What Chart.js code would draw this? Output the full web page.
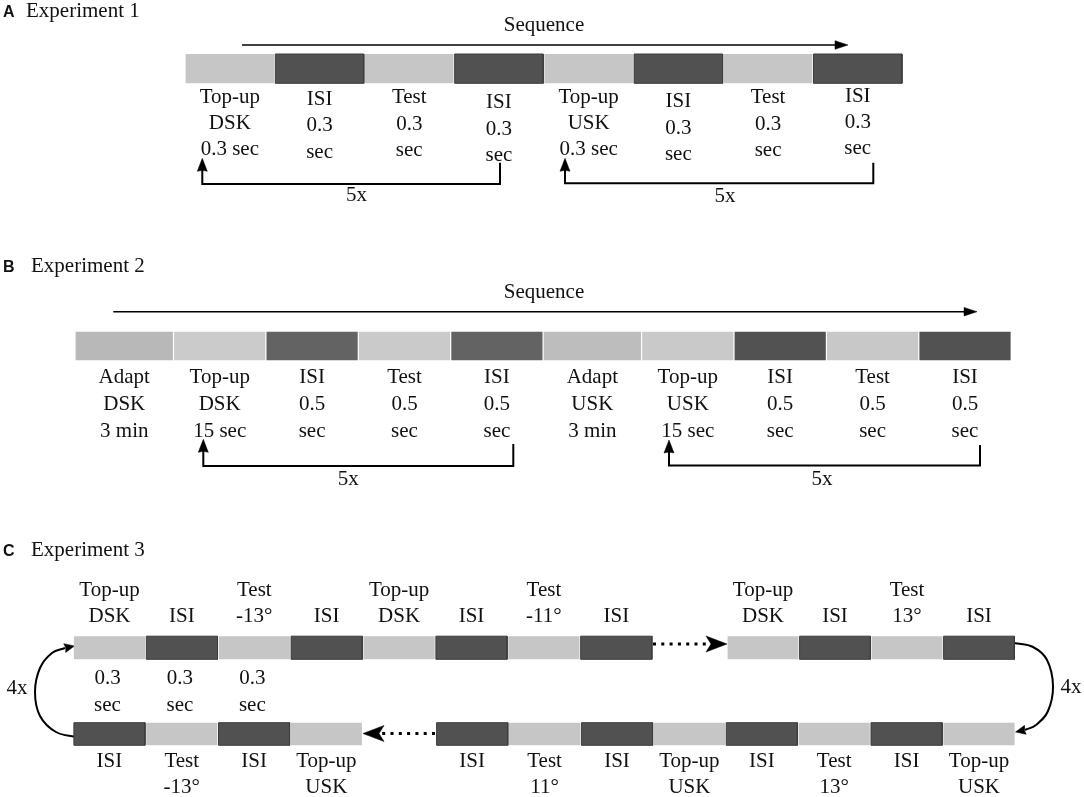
<!DOCTYPE html>
<html lang="en">
<head>
  <meta charset="UTF-8">
  <title>Experiment sequences</title>
  <script src="https://cdn.jsdelivr.net/npm/chart.js"></script>
  <style>
    body {
      margin: 0;
      padding: 0;
      background: #fff;
    }
    .wrap {
      width: 1084px;
      height: 797px;
      position: relative;
    }
  </style>
</head>
<body>
  <div class="wrap">
    <canvas id="diagram"></canvas>
  </div>

  <script>
    // ----- Experiment 1 -----
    const exp1Blocks = ['Top-up', 'ISI', 'Test', 'ISI', 'Top-up', 'ISI', 'Test', 'ISI'];
    const exp1Labels = [
      ['Top-up', 'DSK', '0.3 sec'], ['ISI', '0.3', 'sec'], ['Test', '0.3', 'sec'], ['ISI', '0.3', 'sec'],
      ['Top-up', 'USK', '0.3 sec'], ['ISI', '0.3', 'sec'], ['Test', '0.3', 'sec'], ['ISI', '0.3', 'sec']
    ];
    const exp1Repeats = ['5x', '5x'];

    // ----- Experiment 2 -----
    const exp2Blocks = ['Adapt', 'Top-up', 'ISI', 'Test', 'ISI', 'Adapt', 'Top-up', 'ISI', 'Test', 'ISI'];
    const exp2Labels = [
      ['Adapt', 'DSK', '3 min'], ['Top-up', 'DSK', '15 sec'], ['ISI', '0.5', 'sec'], ['Test', '0.5', 'sec'], ['ISI', '0.5', 'sec'],
      ['Adapt', 'USK', '3 min'], ['Top-up', 'USK', '15 sec'], ['ISI', '0.5', 'sec'], ['Test', '0.5', 'sec'], ['ISI', '0.5', 'sec']
    ];
    const exp2Repeats = ['5x', '5x'];

    // ----- Experiment 3 -----
    const exp3TopBlocks = ['Top-up', 'ISI', 'Test', 'ISI', 'Top-up', 'ISI', 'Test', 'ISI'];
    const exp3TopLabels = [
      ['Top-up', 'DSK'], ['', 'ISI'], ['Test', '-13°'], ['', 'ISI'],
      ['Top-up', 'DSK'], ['', 'ISI'], ['Test', '-11°'], ['', 'ISI']
    ];
    const exp3TopEndBlocks = ['Top-up', 'ISI', 'Test', 'ISI'];
    const exp3TopEndLabels = [['Top-up', 'DSK'], ['', 'ISI'], ['Test', '13°'], ['', 'ISI']];
    const exp3Durations = [['0.3', 'sec'], ['0.3', 'sec'], ['0.3', 'sec']];
    const exp3BottomEndBlocks = ['ISI', 'Test', 'ISI', 'Top-up'];
    const exp3BottomEndLabels = [['ISI', ''], ['Test', '-13°'], ['ISI', ''], ['Top-up', 'USK']];
    const exp3BottomBlocks = ['ISI', 'Test', 'ISI', 'Top-up', 'ISI', 'Test', 'ISI', 'Top-up'];
    const exp3BottomLabels = [
      ['ISI', ''], ['Test', '11°'], ['ISI', ''], ['Top-up', 'USK'],
      ['ISI', ''], ['Test', '13°'], ['ISI', ''], ['Top-up', 'USK']
    ];
    const exp3Repeats = ['4x', '4x'];

    const panelLetters = ['A', 'B', 'C'];
    const panelTitles = ['Experiment 1', 'Experiment 2', 'Experiment 3'];
    const sequenceTitle = 'Sequence';

    // ----- styles -----
    const LABEL_FONT = '21px "Liberation Serif", "Times New Roman", serif';
    const PANEL_FONT = 'bold 16px "Liberation Sans", Arial, sans-serif';
    const INK = '#111';
    const shade1 = { 'Top-up': '#c6c6c6', 'Test': '#c6c6c6', 'ISI': '#515151' };
    const shade2a = { 'Adapt': '#b8b8b8', 'Top-up': '#cbcbcb', 'Test': '#cacaca', 'ISI': '#636363' };
    const shade2b = { 'Adapt': '#bdbdbd', 'Top-up': '#c9c9c9', 'Test': '#c8c8c8', 'ISI': '#525252' };
    const shade3 = shade1;
    const darkEdge = '#3c3c3c';

    const ds = [];
    const texts = [];

    function addBlock(x0, x1, y0, y1, color, edge) {
      ds.push({
        data: [{ x: x0, y: y0 }, { x: x1, y: y0 }, { x: x1, y: y1 }, { x: x0, y: y1 }, { x: x0, y: y0 }],
        fill: 'shape',
        backgroundColor: color,
        borderColor: edge || 'rgba(0,0,0,0)',
        borderWidth: edge ? 1 : 0,
        pointRadius: 0
      });
    }

    function addLine(points, width, extra) {
      ds.push(Object.assign({
        data: points.map(p => ({ x: p[0], y: p[1] })),
        fill: false,
        borderColor: '#000',
        borderWidth: width,
        pointRadius: 0,
        tension: 0
      }, extra || {}));
    }

    // filled arrow head pointing along angle, tip at (tx, ty)
    function addHead(tx, ty, angle, len, half, notch) {
      const c = Math.cos(angle), s = Math.sin(angle);
      const bx = tx - len * c, by = ty - len * s;
      const nx = tx - (len - notch) * c, ny = ty - (len - notch) * s;
      ds.push({
        data: [
          { x: tx, y: ty },
          { x: bx - half * s, y: by + half * c },
          { x: nx, y: ny },
          { x: bx + half * s, y: by - half * c },
          { x: tx, y: ty }
        ],
        fill: 'shape',
        backgroundColor: '#000',
        borderColor: '#000',
        borderWidth: 0.5,
        pointRadius: 0
      });
    }

    function addText(text, x, y, font, align) {
      if (text) texts.push({ text, x, y, font: font || LABEL_FONT, align: align || 'center' });
    }

    // lay a row of blocks, returns centres
    function addRow(types, x0, widthOf, y0, y1, shadeOf, edged) {
      const centres = [];
      let x = x0;
      types.forEach((t, i) => {
        const w = widthOf(t, i);
        const dark = t === 'ISI';
        addBlock(x + 0.6, x + w - 0.6, y0, y1, shadeOf(t, i), edged && dark ? darkEdge : null);
        centres.push(x + w / 2);
        x += w;
      });
      return centres;
    }

    function addLabels(labels, centres, firstY, gap, dx) {
      labels.forEach((lines, i) => {
        const y = Array.isArray(firstY) ? firstY[i] : firstY;
        lines.forEach((ln, k) => addText(ln, centres[i] + (dx || 0), y + k * gap));
      });
    }

    // loop arrow: up-arrow at left, bracket back from right
    function addLoop(xl, tipY, yb, xr, yr, label, labelX, labelY) {
      addLine([[xl, tipY + 10], [xl, yb], [xr, yb], [xr, yr]], 2);
      addHead(xl, tipY, -Math.PI / 2, 13, 5, 1);
      addText(label, labelX, labelY);
    }

    // ----- Panel A -----
    addText(panelLetters[0], 3, 17, PANEL_FONT, 'left');
    addText(panelTitles[0], 26, 17, LABEL_FONT, 'left');
    addText(sequenceTitle, 544, 30.5);
    addLine([[242, 45], [838, 45]], 1.5);
    addHead(848, 45, 0, 13, 4.3, 0);
    const c1 = addRow(exp1Blocks, 185, () => 89.7, 54, 83.3, t => shade1[t], true);
    addLabels(exp1Labels, c1, [102.7, 105, 103.3, 108.3, 102.7, 107.3, 103.3, 101.7], 26.3);
    addLoop(202.3, 158.3, 184, 500, 162.7, exp1Repeats[0], 356.5, 200.7);
    addLoop(565, 158.3, 183.3, 873.3, 162.7, exp1Repeats[1], 725, 201.7);

    // ----- Panel B -----
    addText(panelLetters[1], 3, 272, PANEL_FONT, 'left');
    addText(panelTitles[1], 31, 272, LABEL_FONT, 'left');
    addText(sequenceTitle, 544, 298.3);
    addLine([[113.3, 311.7], [966, 311.7]], 1.5);
    addHead(977, 311.7, 0, 13, 4.3, 0);
    const c2 = addRow(exp2Blocks, 75, t => (t === 'Adapt' ? 98.5 : 92.4), 331.7, 360.3,
      (t, i) => (i < 5 ? shade2a[t] : shade2b[t]), false);
    addLabels(exp2Labels, c2, 382.7, 27);
    addLoop(203.3, 439.3, 466, 513.3, 444, exp2Repeats[0], 348.3, 485);
    addLoop(669, 440, 465.5, 980, 445, exp2Repeats[1], 822, 485);

    // ----- Panel C -----
    addText(panelLetters[2], 3, 556, PANEL_FONT, 'left');
    addText(panelTitles[2], 31, 556, LABEL_FONT, 'left');
    const topY0 = 636.2, topY1 = 659.3, botY0 = 722.7, botY1 = 745.3;
    const c3a = addRow(exp3TopBlocks, 73.3, () => 72.4, topY0, topY1, t => shade3[t], true);
    const c3b = addRow(exp3TopEndBlocks, 727, () => 72, topY0, topY1, t => shade3[t], true);
    const c3c = addRow(exp3BottomEndBlocks, 73.3, () => 72.3, botY0, botY1, t => shade3[t], true);
    const c3d = addRow(exp3BottomBlocks, 436, () => 72.4, botY0, botY1, t => shade3[t], true);
    addLabels(exp3TopLabels, c3a, 596, 25.8);
    addLabels(exp3TopEndLabels, c3b, 596, 25.8);
    addLabels(exp3Durations, c3a, 684, 27, -2);
    addLabels(exp3BottomEndLabels, c3c, 766.7, 26);
    addLabels(exp3BottomLabels, c3d, 766.7, 26);

    // dotted continuation arrows
    const dots = { borderDash: [3, 5.3], borderCapStyle: 'butt' };
    addLine([[653, 644], [708, 644]], 3, dots);
    addHead(727, 644, 0, 21, 8, 5);
    addLine([[435, 733.5], [382, 733.5]], 3, dots);
    addHead(363, 733.5, Math.PI, 21, 8, 5);

    // curved repeat arrows
    addLine([[77, 737], [56, 732], [40, 716], [35, 692], [40, 668], [52, 653], [65, 648]], 2, { tension: 0.4 });
    addHead(74.5, 646, Math.atan2(-2, 9.5), 10, 4.5, 1);
    addText(exp3Repeats[0], 17, 694);
    addLine([[1014, 643], [1033, 647], [1047, 660], [1053, 686], [1048, 711], [1036, 725], [1025, 730]], 2, { tension: 0.4 });
    addHead(1015.5, 732, Math.atan2(2, -9.5), 10, 4.5, 1);
    addText(exp3Repeats[1], 1071, 693);

    const textPlugin = {
      id: 'diagramText',
      afterDatasetsDraw(chart) {
        const { ctx, scales: { x, y } } = chart;
        ctx.save();
        ctx.fillStyle = INK;
        ctx.textBaseline = 'alphabetic';
        texts.forEach(t => {
          ctx.font = t.font;
          ctx.textAlign = t.align;
          ctx.fillText(t.text, x.getPixelForValue(t.x), y.getPixelForValue(t.y));
        });
        ctx.restore();
      }
    };

    new Chart(document.getElementById('diagram'), {
      type: 'line',
      data: { datasets: ds },
      options: {
        responsive: true,
        maintainAspectRatio: false,
        animation: false,
        events: [],
        layout: { padding: 0 },
        plugins: { legend: { display: false }, tooltip: { enabled: false } },
        scales: {
          x: { type: 'linear', min: 0, max: 1084, display: false },
          y: { type: 'linear', min: 0, max: 797, reverse: true, display: false }
        }
      },
      plugins: [textPlugin]
    });
  </script>
</body>
</html>
